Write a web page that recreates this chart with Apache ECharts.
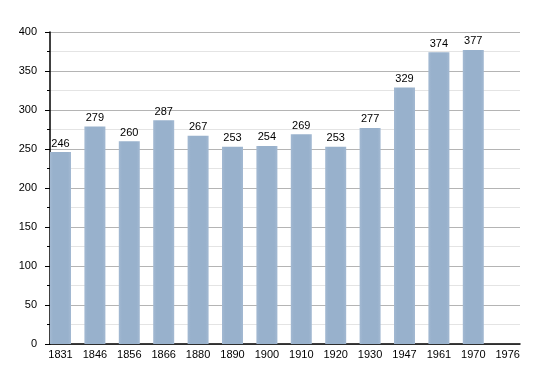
<!DOCTYPE html>
<html><head><meta charset="utf-8">
<script src="https://cdn.jsdelivr.net/npm/echarts@6/dist/echarts.min.js"></script>
<style>html,body{margin:0;padding:0;background:#fff}#c{width:550px;height:373px}</style>
</head><body><div id="c"></div>
<script>
const categories = ['1831','1846','1856','1866','1880','1890','1900','1910','1920','1930','1947','1961','1970','1976'];
const population = [246,279,260,287,267,253,254,269,253,277,329,374,377,null];
const yTicks = [0,50,100,150,200,250,300,350,400];

const chart = echarts.init(document.getElementById('c'), null, {renderer:'canvas'});
const font = 'Liberation Sans, Arial, sans-serif';
chart.setOption({
  animation:false,
  backgroundColor:'#fff',
  grid:[
    {left:50, right:30, top:32, bottom:29},
    {left:43.3, width:481.6, top:32, bottom:29}
  ],
  xAxis:[
    {gridIndex:0, type:'category', data:categories, axisLine:{lineStyle:{color:'#000',width:1.5}}, axisTick:{show:false}, axisLabel:{show:false}, splitLine:{show:false}},
    {gridIndex:1, type:'category', data:categories, axisLine:{show:false}, axisTick:{show:false},
     axisLabel:{color:'#000', fontFamily:font, fontSize:11, margin:5, interval:0}}
  ],
  yAxis:[
    {gridIndex:0, type:'value', min:yTicks[0], max:yTicks[yTicks.length-1], interval:50,
     axisLine:{show:true, lineStyle:{color:'#000',width:1.5}},
     axisTick:{show:true, length:5, lineStyle:{color:'#000'}},
     minorTick:{show:true, splitNumber:2, length:3, lineStyle:{color:'#000'}},
     axisLabel:{color:'#000', fontFamily:font, fontSize:11, margin:13},
     splitLine:{show:true, lineStyle:{color:'#b4b4b4', width:1}},
     minorSplitLine:{show:true, lineStyle:{color:'#e4e4e4', width:1}}},
    {gridIndex:1, type:'value', min:0, max:400, show:false, splitLine:{show:false}}
  ],
  series:[{
    type:'bar', xAxisIndex:1, yAxisIndex:1, data:population, barWidth:21,
    itemStyle:{color:{type:'linear',x:0,y:0,x2:1,y2:0,colorStops:[
      {offset:0,color:'#a3b9d2'},{offset:0.15,color:'#98b1cc'},{offset:0.85,color:'#98b1cc'},{offset:1,color:'#a3b9d2'}]}},
    label:{show:true, position:'top', distance:3, color:'#000', fontFamily:font, fontSize:11}
  }]
});
</script></body></html>
